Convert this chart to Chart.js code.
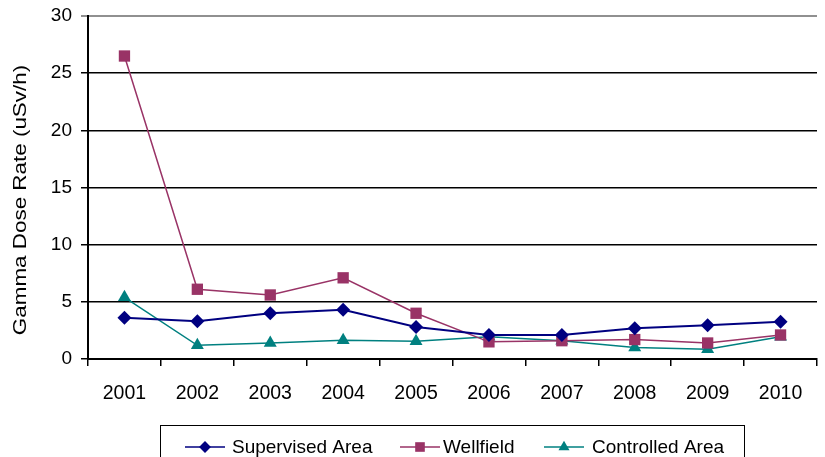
<!DOCTYPE html>
<html>
<head>
<meta charset="utf-8">
<script src="https://cdn.jsdelivr.net/npm/chart.js@4.4.0/dist/chart.umd.min.js"></script>
<style>
  html, body { margin: 0; padding: 0; background: #fff; }
  #wrap { width: 825px; height: 457px; position: relative; }
</style>
</head>
<body>
<div id="wrap"><canvas id="chart"></canvas></div>
<script>
// Data
const years = ["2001", "2002", "2003", "2004", "2005", "2006", "2007", "2008", "2009", "2010"];
const supervisedArea = [3.6, 3.3, 4.0, 4.3, 2.8, 2.1, 2.1, 2.7, 2.95, 3.25];
const wellfield = [26.5, 6.1, 5.6, 7.1, 4.0, 1.5, 1.6, 1.7, 1.4, 2.1];
const controlledArea = [5.4, 1.2, 1.4, 1.65, 1.55, 1.95, 1.6, 1.0, 0.85, 1.95];
const yTicks = [0, 5, 10, 15, 20, 25, 30];
const yTitle = "Gamma Dose Rate (uSv/h)";

const FONT = "'Liberation Sans', Arial, sans-serif";

// Axis title: drawn by hand so it sits where the original has it
const yTitlePlugin = {
  id: "yTitle",
  afterDraw(chart) {
    const ctx = chart.ctx;
    ctx.save();
    ctx.translate(21, 200);
    ctx.rotate(-Math.PI / 2);
    ctx.scale(1.18, 1);
    ctx.font = "19px " + FONT;
    ctx.fillStyle = "#000";
    ctx.textAlign = "center";
    ctx.textBaseline = "middle";
    ctx.fillText(yTitle, 0, 0);
    ctx.restore();
  }
};

// Legend in a box under the axis
const boxLegend = {
  id: "boxLegend",
  afterDraw(chart) {
    const ctx = chart.ctx;
    const x0 = 160.5, x1 = 744.5, y0 = 425.5;
    ctx.save();
    ctx.strokeStyle = "#000";
    ctx.lineWidth = 1;
    ctx.strokeRect(x0, y0, x1 - x0, 60);
    const items = [
      { ds: 0, lx: 185, tx: 232 },
      { ds: 1, lx: 400, tx: 443 },
      { ds: 2, lx: 544, tx: 592 }
    ];
    const cy = 447;
    ctx.font = "19px " + FONT;
    ctx.textBaseline = "middle";
    items.forEach((it) => {
      const ds = chart.data.datasets[it.ds];
      ctx.strokeStyle = ds.borderColor;
      ctx.lineWidth = 1.5;
      ctx.beginPath();
      ctx.moveTo(it.lx, cy);
      ctx.lineTo(it.lx + 40, cy);
      ctx.stroke();
      ctx.fillStyle = ds.pointBackgroundColor;
      Chart.helpers.drawPoint(ctx, {
        pointStyle: ds.pointStyle,
        radius: ds.pointRadius * 0.85,
        borderWidth: 0
      }, it.lx + 20, cy);
      ctx.fillStyle = "#000";
      ctx.fillText(ds.label, it.tx, cy + 1);
    });
    ctx.restore();
  }
};

const ctx = document.getElementById("chart").getContext("2d");
new Chart(ctx, {
  type: "line",
  data: {
    labels: years,
    datasets: [
      {
        label: "Supervised Area",
        data: supervisedArea,
        borderColor: "#000080",
        pointBackgroundColor: "#000080",
        pointBorderColor: "#000080",
        pointBorderWidth: 0,
        pointStyle: "rectRot",
        pointRadius: 7,
        borderWidth: 2,
        tension: 0
      },
      {
        label: "Wellfield",
        data: wellfield,
        borderColor: "#993366",
        pointBackgroundColor: "#993366",
        pointBorderColor: "#993366",
        pointBorderWidth: 0,
        pointStyle: "rect",
        pointRadius: 8,
        borderWidth: 1.5,
        tension: 0
      },
      {
        label: "Controlled Area",
        data: controlledArea,
        borderColor: "#008080",
        pointBackgroundColor: "#008080",
        pointBorderColor: "#008080",
        pointBorderWidth: 0,
        pointStyle: "triangle",
        pointRadius: 7.5,
        borderWidth: 1.5,
        tension: 0
      }
    ]
  },
  options: {
    responsive: true,
    maintainAspectRatio: false,
    animation: false,
    layout: { padding: { top: 16, right: 2, left: 0, bottom: 0 } },
    plugins: {
      legend: { display: false },
      tooltip: { enabled: false }
    },
    scales: {
      x: {
        offset: true,
        afterFit: (scale) => {
          scale.height = 98;
          scale.paddingLeft = 0;
          scale.paddingRight = 0;
        },
        border: { color: "#000", width: 2 },
        grid: {
          offset: true,
          drawOnChartArea: false,
          drawTicks: true,
          tickLength: 7,
          color: "#000",
          lineWidth: 1.5
        },
        ticks: {
          color: "#000",
          padding: 16,
          maxRotation: 0,
          font: { family: FONT, size: 19.5 }
        }
      },
      y: {
        min: 0,
        max: 30,
        afterFit: (scale) => {
          scale.width = 88;
          scale.paddingTop = 0;
          scale.paddingBottom = 0;
        },
        afterBuildTicks: (scale) => { scale.ticks = yTicks.map((v) => ({ value: v })); },
        border: { color: "#000", width: 2 },
        grid: {
          color: (c) => (c.tick && c.tick.value === 30 ? "#909090" : "#000"),
          lineWidth: (c) => (c.tick && c.tick.value === 30 ? 2 : 1.5),
          tickLength: 7,
          drawTicks: true
        },
        ticks: {
          color: "#000",
          padding: 9,
          font: { family: FONT, size: 19 }
        }
      }
    }
  },
  plugins: [yTitlePlugin, boxLegend]
});
</script>
</body>
</html>
